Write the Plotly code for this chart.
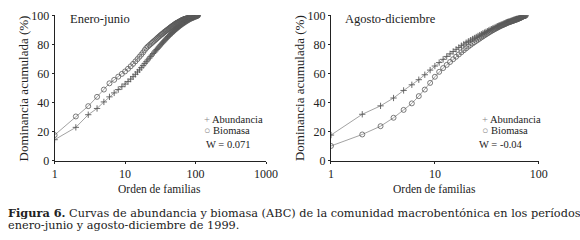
import plotly.graph_objects as go

# ---- data ----
abund_ej = [14.5, 23.0, 31.7, 36.0, 40.5, 44.0, 46.7, 49.0, 51.0, 52.8,
            54.5, 56.2, 57.9, 59.5, 61.1, 62.6, 64.1, 65.5, 66.9, 68.2,
            69.4, 70.6, 71.7, 72.8, 73.8, 74.8, 75.7, 76.6, 77.4, 78.2,
            79.0, 79.8, 80.5, 81.2, 81.9, 82.6, 83.2, 83.8, 84.4, 85.0,
            85.5, 86.0, 86.5, 87.0, 87.5, 87.9, 88.3, 88.7, 89.1, 89.5,
            89.9, 90.3, 90.7, 91.0, 91.3, 91.6, 91.9, 92.2, 92.5, 92.8,
            93.1, 93.4, 93.6, 93.9, 94.1, 94.3, 94.6, 94.8, 95.0, 95.2,
            95.4, 95.6, 95.8, 96.0, 96.2, 96.4, 96.6, 96.7, 96.9, 97.1,
            97.2, 97.4, 97.5, 97.7, 97.8, 97.9, 98.1, 98.2, 98.3, 98.4,
            98.5, 98.6, 98.7, 98.8, 98.9, 99.0, 99.1, 99.2, 99.3, 99.4,
            99.5, 99.55, 99.6, 99.7, 99.8, 99.85, 99.9, 100.0]
biom_ej = [17.7, 30.5, 37.6, 44.0, 49.0, 53.3, 55.7, 57.9, 59.8, 61.5,
           63.3, 65.0, 66.7, 68.4, 70.0, 71.6, 73.1, 74.6, 76.2, 77.6,
           78.6, 79.5, 80.3, 81.1, 81.9, 82.6, 83.3, 84.0, 84.7, 85.3,
           85.9, 86.5, 87.0, 87.5, 88.0, 88.5, 89.0, 89.4, 89.8, 90.2,
           90.6, 91.0, 91.4, 91.8, 92.1, 92.5, 92.8, 93.1, 93.4, 93.7,
           94.0, 94.3, 94.6, 94.8, 95.0, 95.2, 95.4, 95.6, 95.8, 96.0,
           96.2, 96.4, 96.6, 96.8, 96.9, 97.0, 97.2, 97.3, 97.4, 97.6,
           97.7, 97.8, 97.9, 98.0, 98.1, 98.2, 98.3, 98.4, 98.5, 98.6,
           98.7, 98.8, 98.9, 98.95, 99.0, 99.1, 99.15, 99.2, 99.25, 99.3,
           99.35, 99.4, 99.45, 99.5, 99.55, 99.6, 99.65, 99.7, 99.74, 99.78,
           99.81, 99.84, 99.87, 99.9, 99.93, 99.95, 99.98, 100.0]
abund_ad = [17.7, 32.0, 37.8, 43.2, 48.4, 52.3, 55.8, 59.2, 62.4, 65.2,
            67.6, 69.8, 71.8, 73.6, 75.2, 76.7, 78.0, 79.2, 80.3, 81.3,
            82.2, 83.0, 83.8, 84.5, 85.2, 85.9, 86.5, 87.1, 87.7, 88.2,
            88.7, 89.2, 89.7, 90.2, 90.6, 91.0, 91.4, 91.8, 92.2, 92.6,
            92.9, 93.2, 93.5, 93.8, 94.1, 94.4, 94.7, 95.0, 95.3, 95.5,
            95.7, 95.9, 96.1, 96.3, 96.5, 96.7, 96.9, 97.1, 97.3, 97.5,
            97.7, 97.9, 98.1, 98.3, 98.5, 98.7, 98.9, 99.1, 99.3, 99.45,
            99.6, 99.7, 99.8, 99.9, 100.0]
biom_ad = [10.2, 18.1, 23.8, 29.6, 35.0, 39.5, 44.5, 49.0, 53.6, 57.8,
           61.2, 63.8, 66.0, 68.0, 69.9, 71.6, 73.2, 74.7, 76.1, 77.4,
           78.6, 79.7, 80.7, 81.6, 82.5, 83.3, 84.1, 84.9, 85.6, 86.3,
           87.0, 87.6, 88.2, 88.8, 89.3, 89.8, 90.3, 90.8, 91.2, 91.6,
           92.0, 92.4, 92.8, 93.1, 93.4, 93.7, 94.0, 94.3, 94.6, 94.9,
           95.2, 95.4, 95.6, 95.8, 96.0, 96.2, 96.4, 96.6, 96.8, 97.0,
           97.2, 97.4, 97.6, 97.8, 98.0, 98.2, 98.4, 98.7, 99.0, 99.2,
           99.4, 99.6, 99.75, 99.9, 100.0]
rank_ej = list(range(1, len(abund_ej) + 1))
rank_ad = list(range(1, len(abund_ad) + 1))

x_ticks_ej = [1, 10, 100, 1000]
x_ticks_ad = [1, 10, 100]
y_ticks = [0, 20, 40, 60, 80, 100]

FONT = "'Liberation Serif', 'Times New Roman', serif"
CAPFONT = "'DejaVu Serif', serif"
LINE = "#8a8a8a"
MK = "#5a5a5a"

fig = go.Figure()

def add_pair(ranks, ab, bi, xa, ya):
    fig.add_trace(go.Scatter(x=ranks, y=ab, mode="lines+markers", xaxis=xa, yaxis=ya,
                             line=dict(color=LINE, width=0.8),
                             marker=dict(symbol="cross-thin", size=4.5, line=dict(color=MK, width=0.9)),
                             showlegend=False))
    fig.add_trace(go.Scatter(x=ranks, y=bi, mode="lines+markers", xaxis=xa, yaxis=ya,
                             line=dict(color=LINE, width=0.8),
                             marker=dict(symbol="circle-open", size=5, color=MK, line=dict(width=0.8)),
                             showlegend=False))

add_pair(rank_ej, abund_ej, biom_ej, "x", "y")
add_pair(rank_ad, abund_ad, biom_ad, "x2", "y2")

axis_common = dict(showline=True, linecolor="#222", linewidth=1, ticks="outside",
                   ticklen=2, tickcolor="#222", showgrid=False, zeroline=False,
                   tickfont=dict(family=FONT, size=12, color="#222"))

fig.update_layout(
    width=580, height=240,
    margin=dict(l=0, r=0, t=0, b=0),
    paper_bgcolor="white", plot_bgcolor="white",
    xaxis=dict(type="log", range=[0, 3], domain=[53/580, 270/580], anchor="y",
               tickvals=x_ticks_ej, ticktext=[str(v) for v in x_ticks_ej], **axis_common),
    yaxis=dict(range=[0, 100], domain=[1-163.3/240, 1-9/240], anchor="x",
               tickvals=y_ticks, **axis_common),
    xaxis2=dict(type="log", range=[0, 2], domain=[336.7/580, 550/580], anchor="y2",
                tickvals=x_ticks_ad, ticktext=[str(v) for v in x_ticks_ad], **axis_common),
    yaxis2=dict(range=[0, 100], domain=[1-163.3/240, 1-9/240], anchor="x2",
                tickvals=y_ticks, **axis_common),
)

def ann(x, y, text, size=12, xanchor="center", angle=0, color="#222", family=FONT):
    fig.add_annotation(x=x/580, y=1-y/240, xref="paper", yref="paper", text=text,
                       showarrow=False, xanchor=xanchor, yanchor="middle", textangle=angle,
                       font=dict(family=family, size=size, color=color))

# panel titles
ann(67, 13, "Enero-junio", 12.5, "left")
ann(349, 13, "Agosto-diciembre", 12.5, "left")
# y-axis titles
ann(22, 86, "Dominancia acumulada (%)", 13, "center", -90)
ann(305, 86, "Dominancia acumulada (%)", 13, "center", -90)
# x-axis titles
ann(161, 193, "Orden de familias", 11.5)
ann(443, 193, "Orden de familias", 11.5)
# legends
ann(204, 119, "<span style='color:#888'>+</span> Abundancia", 10.5, "left")
ann(204, 131, "<span style='color:#888'>○</span> Biomasa", 10.5, "left")
ann(206, 146, "W = 0.071", 10.5, "left")
ann(490, 119, "<span style='color:#888'>+</span> Abundancia", 10.5, "left")
ann(490, 131, "<span style='color:#888'>○</span> Biomasa", 10.5, "left")
ann(487, 146, "W = -0.04", 10.5, "left")
# caption
ann(3, 219, "<b>Figura 6.</b> Curvas de abundancia y biomasa (ABC) de la comunidad macrobentónica en los períodos", 11.3, "left", family=CAPFONT)
ann(3, 232, "enero-junio y agosto-diciembre de 1999.", 11.3, "left", family=CAPFONT)

fig.write_html("out.html", config={"displayModeBar": False},
               post_script="document.body.style.margin='0';document.body.style.padding='0';")
